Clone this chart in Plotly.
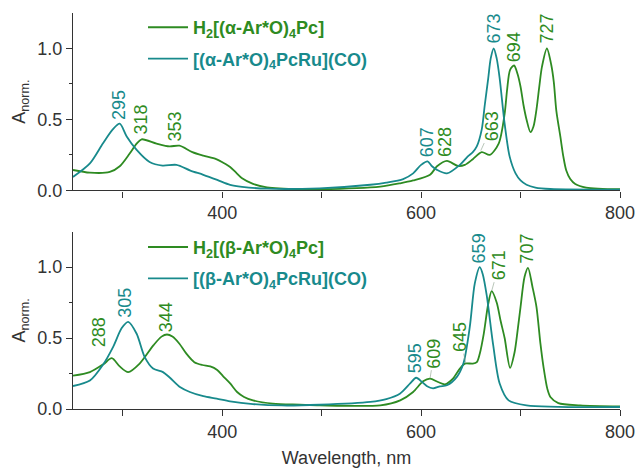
import plotly.graph_objects as go

GREEN = "#2e8b22"
TEAL = "#188a8c"

# ---- top panel: alpha ----
a_h2_x = [250, 267, 287, 297, 307, 314, 319, 334, 347, 357, 370, 381, 394, 401, 408, 414, 420, 431, 445, 478, 498,
          559, 579, 592, 609, 616, 626, 637, 644, 652, 661, 669, 678, 684, 686.5, 689.5, 693.5, 697, 700, 703, 706,
          710, 713, 716, 719, 721.5, 726.5, 731, 733.5, 736, 740, 743, 746, 750, 755, 766, 800]
a_h2_y = [0.144, 0.125, 0.13, 0.17, 0.26, 0.33, 0.36, 0.33, 0.31, 0.315, 0.27, 0.245, 0.22, 0.195, 0.165, 0.125,
          0.085, 0.046, 0.022, 0.008, 0.008, 0.027, 0.05, 0.07, 0.11, 0.17, 0.208, 0.172, 0.18, 0.22, 0.27, 0.25,
          0.33, 0.54, 0.71, 0.85, 0.88, 0.82, 0.73, 0.6, 0.5, 0.41, 0.45, 0.57, 0.74, 0.87, 1.0, 0.88, 0.76, 0.56,
          0.38, 0.24, 0.14, 0.08, 0.045, 0.02, 0.008]

a_ru_x = [250, 267, 280, 290, 297, 304, 314, 327, 340, 354, 368, 381, 395, 408, 420, 445, 498, 549, 565, 582, 592,
          600, 606.5, 611, 616, 626, 639, 647, 652, 656, 661, 664, 667.5, 670, 673, 676, 679, 684, 689, 695, 700,
          706, 715, 730, 800]
a_ru_y = [0.095, 0.19, 0.33, 0.43, 0.47, 0.38, 0.285, 0.20, 0.175, 0.18, 0.14, 0.11, 0.074, 0.039, 0.025, 0.012,
          0.015, 0.04, 0.055, 0.08, 0.12, 0.18, 0.205, 0.17, 0.145, 0.12, 0.18, 0.24, 0.27, 0.31, 0.43, 0.6, 0.79,
          0.93, 1.0, 0.93, 0.79, 0.47, 0.24, 0.12, 0.07, 0.04, 0.02, 0.01, 0.005]

# ---- bottom panel: beta ----
b_h2_x = [250, 267, 280.5, 289, 297, 305.5, 317, 331, 339, 344.5, 350, 357, 364, 372, 380, 388, 395, 401, 408, 415,
          422, 431, 451, 478, 498, 559, 579, 592, 602, 609, 617, 624, 632, 639, 644, 652, 656, 659, 663, 667.5, 671,
          676, 680, 684, 689.5, 694, 697, 700, 704, 707.5, 712, 716, 720, 723, 727, 730, 738, 760, 800]
b_h2_y = [0.235, 0.26, 0.315, 0.358, 0.30, 0.26, 0.32, 0.45, 0.51, 0.525, 0.51, 0.46, 0.39, 0.33, 0.31, 0.30,
          0.275, 0.23, 0.18, 0.12, 0.085, 0.061, 0.038, 0.031, 0.026, 0.026, 0.061, 0.12, 0.195, 0.214, 0.19, 0.174,
          0.214, 0.285, 0.32, 0.32, 0.33, 0.39, 0.53, 0.74, 0.83, 0.75, 0.62, 0.50, 0.29, 0.40, 0.55, 0.72, 0.93,
          0.995, 0.86, 0.72, 0.46, 0.30, 0.14, 0.085, 0.042, 0.026, 0.018]

b_ru_x = [250, 267, 280, 290.5, 299, 305.5, 314, 322, 330.5, 340.5, 347.5, 357.5, 367.5, 381, 394.5, 408, 431, 460,
          498, 549, 565, 579, 589, 595, 601, 606, 612, 619, 626, 636, 642.5, 649, 654, 659, 662, 666, 672.5, 679,
          688, 706, 800]
b_ru_y = [0.162, 0.20, 0.31, 0.44, 0.57, 0.614, 0.53, 0.367, 0.285, 0.26, 0.22, 0.155, 0.12, 0.09, 0.073, 0.054,
          0.035, 0.025, 0.03, 0.05, 0.07, 0.11, 0.18, 0.22, 0.19, 0.16, 0.146, 0.16, 0.167, 0.226, 0.32, 0.58, 0.885,
          1.0, 0.95, 0.8, 0.45, 0.18, 0.061, 0.026, 0.014]

# peak labels: wavelength values (text), label centre (x, y), optional leader end point (x, y)
top_labels = [295, 318, 353, 607, 628, 663, 673, 694, 727]
top_label_series = ["ru", "h2", "h2", "ru", "h2", "h2", "ru", "h2", "h2"]
top_label_x = [297, 318.5, 352.5, 606, 624, 671, 673.3, 693.5, 726.6]
top_label_y = [0.60, 0.50, 0.45, 0.34, 0.34, 0.45, 1.14, 1.01, 1.14]
top_leader = {663: (660, 0.28)}

bot_labels = [288, 305, 344, 595, 609, 645, 659, 671, 707]
bot_label_series = ["h2", "ru", "h2", "ru", "h2", "h2", "ru", "h2", "h2"]
bot_label_x = [277, 302, 343.5, 594, 613, 639, 658, 678, 706.5]
bot_label_y = [0.54, 0.746, 0.647, 0.358, 0.39, 0.506, 1.13, 1.01, 1.13]
bot_leader = {609: (609, 0.216), 645: (645, 0.322), 671: (671, 0.832)}

names = {
    "a_h2": "<b>H<sub>2</sub>[(α-Ar*O)<sub>4</sub>Pc]</b>",
    "a_ru": "<b>[(α-Ar*O)<sub>4</sub>PcRu](CO)</b>",
    "b_h2": "<b>H<sub>2</sub>[(β-Ar*O)<sub>4</sub>Pc]</b>",
    "b_ru": "<b>[(β-Ar*O)<sub>4</sub>PcRu](CO)</b>",
}

FONT = "Arial, Liberation Sans, sans-serif"
fig = go.Figure()


def colored(txt, c):
    return f'<span style="color:{c}">{txt}</span>'


line_kw = dict(mode="lines", line_shape="spline")
traces = [
    (a_h2_x, a_h2_y, "a_h2", GREEN, "x", "y", "legend"),
    (a_ru_x, a_ru_y, "a_ru", TEAL, "x", "y", "legend"),
    (b_h2_x, b_h2_y, "b_h2", GREEN, "x2", "y2", "legend2"),
    (b_ru_x, b_ru_y, "b_ru", TEAL, "x2", "y2", "legend2"),
]
for xs, ys, key, c, xa, ya, lg in traces:
    fig.add_trace(go.Scatter(x=xs, y=ys, name=colored(names[key], c), legendgroup=key,
                             line=dict(color=c, width=1.8, smoothing=0.8),
                             xaxis=xa, yaxis=ya, legend=lg, **line_kw))

annotations = []


def add_labels(labels, series, lx, ly, leaders, xr, yr):
    for v, s, x, y in zip(labels, series, lx, ly):
        c = GREEN if s == "h2" else TEAL
        a = dict(text=str(v), textangle=-90, font=dict(size=18, color=c, family=FONT),
                 xref=xr, yref=yr, xanchor="center", yanchor="middle")
        if v in leaders:
            px, py = leaders[v]
            a.update(x=px, y=py, ax=x, ay=y, axref=xr, ayref=yr, showarrow=True,
                     arrowhead=0, arrowwidth=0.6, arrowcolor="#8aa08a", standoff=0, startstandoff=0)
        else:
            a.update(x=x, y=y, showarrow=False)
        annotations.append(a)


add_labels(top_labels, top_label_series, top_label_x, top_label_y, top_leader, "x", "y")
add_labels(bot_labels, bot_label_series, bot_label_x, bot_label_y, bot_leader, "x2", "y2")

axis_common = dict(showline=True, linecolor="#333", linewidth=1.2, ticks="outside", ticklen=6, tickwidth=1.2,
                   tickcolor="#333", showgrid=False, zeroline=False, automargin=False,
                   tickfont=dict(size=18, color="#333", family=FONT))
xcommon = dict(axis_common, range=[250, 800], tickvals=[400, 600, 800],
               minor=dict(tickvals=[300, 500, 700], ticks="outside", ticklen=6, tickwidth=1.2, tickcolor="#333"))
ycommon = dict(axis_common, range=[0, 1.25], tickvals=[0, 0.5, 1.0], tickformat=".1f",
               minor=dict(tickvals=[0.25, 0.75], ticks="outside", ticklen=3, tickwidth=1.2, tickcolor="#333"),
               title=dict(text="A<sub>norm.</sub>", font=dict(size=18, color="#333", family=FONT), standoff=6))

legend_common = dict(xanchor="left", yanchor="top", bgcolor="rgba(0,0,0,0)",
                     font=dict(size=18, family=FONT), itemwidth=40, tracegroupgap=5)

fig.update_layout(
    width=636, height=472,
    margin=dict(l=73, r=16, t=13, b=63, autoexpand=False),
    paper_bgcolor="white", plot_bgcolor="white",
    font=dict(family=FONT, color="#333"),
    xaxis=dict(xcommon, domain=[0, 1], anchor="y"),
    yaxis=dict(ycommon, domain=[0.552, 1.0], anchor="x"),
    xaxis2=dict(xcommon, domain=[0, 1], anchor="y2",
                title=dict(text="Wavelength, nm", font=dict(size=18, color="#333", family=FONT), standoff=10)),
    yaxis2=dict(ycommon, domain=[0, 0.448], anchor="x2"),
    legend=dict(legend_common, x=0.128, y=1.01),
    legend2=dict(legend_common, x=0.128, y=0.455),
    annotations=annotations,
    showlegend=True,
)

fig.write_html("out.html", config={"displayModeBar": False},
               post_script="document.body.style.margin='0px';")
